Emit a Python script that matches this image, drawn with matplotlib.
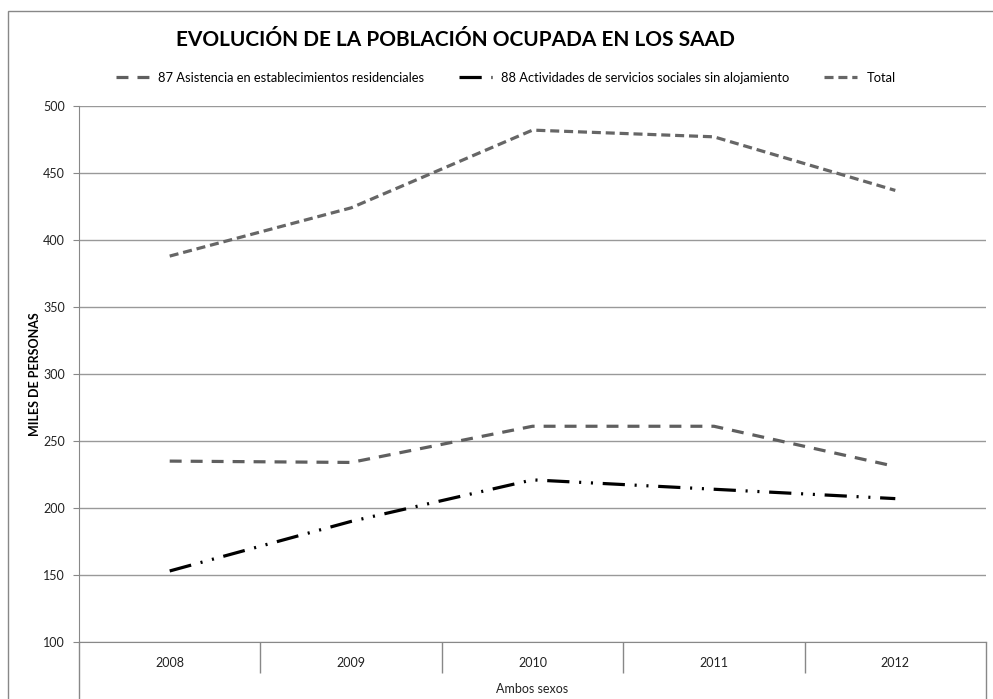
import matplotlib
matplotlib.use("Agg")
import matplotlib.pyplot as plt
from matplotlib.lines import Line2D
from matplotlib.patches import Rectangle

years = ["2008", "2009", "2010", "2011", "2012"]
residenciales = [235, 234, 261, 261, 231]
sin_alojamiento = [153, 190, 221, 214, 207]
total = [388, 424, 482, 477, 437]

plt.rcParams['font.family'] = ['Lato', 'DejaVu Sans']
plt.rcParams['lines.scale_dashes'] = False

W, H = 993, 699
fig = plt.figure(figsize=(W / 100, H / 100), dpi=100)
ax = fig.add_axes([79 / W, 57 / H, (986 - 79) / W, (642 - 106) / H])

x = list(range(len(years)))
ax.plot(x, residenciales, color="#5f5f5f", lw=2.3, linestyle=(0, (8.6, 6.5)),
        label="87 Asistencia en establecimientos residenciales")
ax.plot(x, sin_alojamiento, color="black", lw=2.3, linestyle=(0, (16, 7, 1.5, 7, 1.5, 7)),
        label="88 Actividades de servicios sociales sin alojamiento")
ax.plot(x, total, color="#666666", lw=2.3, linestyle=(0, (6.5, 3.5)), label="Total")

ax.set_xlim(-0.5, len(years) - 0.5)
ax.set_ylim(100, 500)
ax.set_yticks(range(100, 501, 50))
ax.tick_params(axis="y", direction="out", length=4, color="#888888", labelsize=9,
               labelcolor="#222222", pad=6)
ax.grid(axis="y", color="#999999", lw=1)
ax.set_axisbelow(True)

ax.set_xticks(x)
ax.set_xticklabels(years, fontsize=9, color="#222222")
ax.tick_params(axis="x", length=0, pad=11)
ax.set_xticks([i + 0.5 for i in x[:-1]], minor=True)
ax.tick_params(axis="x", which="minor", direction="out", length=22, color="#888888", width=1)

for side in ["top", "right"]:
    ax.spines[side].set_visible(False)
ax.spines["left"].set_color("#888888")
ax.spines["bottom"].set_color("#888888")

# left axis and right edge run down to the bottom of the chart
ext = -57 / 536
ax.add_line(Line2D([0, 0], [0, ext], transform=ax.transAxes, color="#888888", lw=1, clip_on=False))
ax.add_line(Line2D([1, 1], [0, ext], transform=ax.transAxes, color="#888888", lw=1, clip_on=False))

ax.set_ylabel("MILES DE PERSONAS", fontsize=9, fontweight="bold")
ax.yaxis.set_label_coords(-38 / 907, 0.5)
fig.text(0.5 * (79 + 986) / W, 1 - 689 / H, "Ambos sexos", fontsize=9, ha="center", va="center",
         color="#222222")

fig.text(455 / W, 1 - 40 / H, "EVOLUCIÓN DE LA POBLACIÓN OCUPADA EN LOS SAAD", fontsize=15,
         fontweight="bold", ha="center", va="center")

fig.legend(loc="center", bbox_to_anchor=(506 / W, 1 - 78 / H), ncol=3, frameon=False,
           fontsize=9.3, handlelength=2.5, columnspacing=2.7, handletextpad=0.75)

# outer chart frame
fig.add_artist(Rectangle((8 / W, -0.1), 1.2, 1.1 - 11 / H, transform=fig.transFigure,
                         fill=False, edgecolor="#888888", lw=1, clip_on=False))

fig.savefig("out.png", dpi=100)
